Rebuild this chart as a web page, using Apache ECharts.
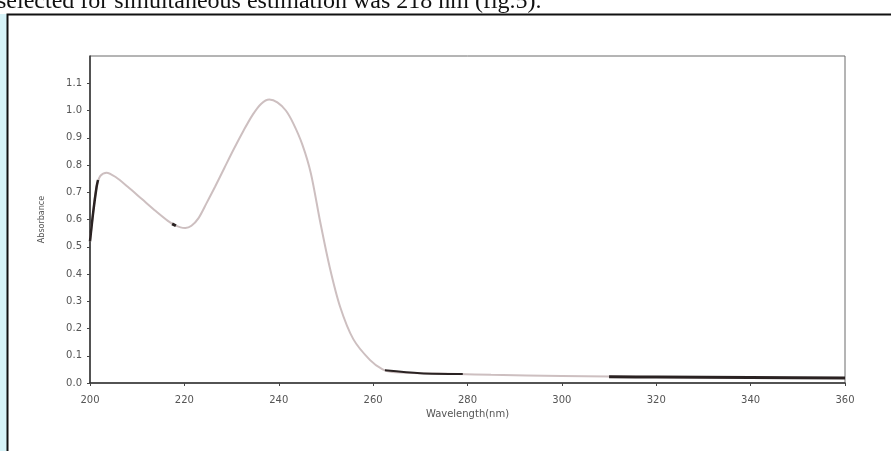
<!DOCTYPE html>
<html>
<head>
<meta charset="utf-8">
<script src="https://cdn.jsdelivr.net/npm/echarts@6/dist/echarts.min.js"></script>
<style>
  html, body { margin: 0; padding: 0; background: #fff; }
  #chart { width: 891px; height: 451px; }
</style>
</head>
<body>
<div id="chart"></div>
<script>
// spectrum
const wavelength = [200, 200.7, 201.4, 202.2, 203.5, 205.5, 208, 211, 214, 216.5, 218, 219.2, 220.2, 221.5, 223, 224.7,
  226.5, 228.5, 230.4, 232.5, 234.5, 236.3, 238, 239.7, 241.5, 243.1, 245, 246.8, 248.8, 250.8, 253, 255.8,
  259.3, 262, 264, 270, 278, 285, 300, 320, 340, 360];
const absorbance = [0.52, 0.63, 0.72, 0.76, 0.772, 0.755, 0.72, 0.675, 0.63, 0.595, 0.579, 0.571, 0.569, 0.577, 0.605, 0.66,
  0.72, 0.79, 0.856, 0.925, 0.985, 1.025, 1.04, 1.03, 1.0, 0.952, 0.875, 0.77, 0.59, 0.425, 0.28, 0.161,
  0.085, 0.05, 0.04, 0.036, 0.033, 0.03, 0.026, 0.022, 0.02, 0.018];

// darker overprinted bits of the trace
const darkStartX = [200, 200.7, 201.4, 201.7];
const darkStartY = [0.52, 0.63, 0.72, 0.745];
const darkDotX = [217.4, 218.2];
const darkDotY = [0.584, 0.577];
const darkMidX = [262.5, 270, 279];
const darkMidY = [0.047, 0.036, 0.033];
const darkEndX = [310, 320, 340, 360];
const darkEndY = [0.023, 0.022, 0.02, 0.018];

const xTicks = { min: 200, max: 360, step: 20 };
const yTicks = { min: 0, max: 1.2, step: 0.1 };

function pairs(xs, ys) {
  return xs.map((x, i) => [x, ys[i]]);
}

const chart = echarts.init(document.getElementById('chart'));

function darkSeries(xs, ys, width) {
  return {
    type: 'line',
    data: pairs(xs, ys),
    symbol: 'none',
    smooth: 0.3,
    lineStyle: { color: '#2a2222', width: width },
    z: 3
  };
}

const option = {
  animation: false,
  backgroundColor: '#fff',
  grid: {
    left: 90, right: 46, top: 56, bottom: 68,
    show: true, borderColor: '#6a6a6a', borderWidth: 1
  },
  xAxis: {
    type: 'value',
    min: xTicks.min, max: xTicks.max, interval: xTicks.step,
    name: 'Wavelength(nm)',
    nameLocation: 'middle',
    nameGap: 26,
    nameTextStyle: { fontSize: 10, color: '#555', fontFamily: 'DejaVu Sans' },
    axisLine: { show: true, lineStyle: { color: '#333', width: 1.5 } },
    axisTick: { show: true, length: 3, lineStyle: { color: '#444' } },
    axisLabel: { fontSize: 10, color: '#555', margin: 12, fontFamily: 'DejaVu Sans' },
    splitLine: { show: false }
  },
  yAxis: {
    type: 'value',
    min: yTicks.min, max: yTicks.max, interval: yTicks.step,
    name: 'Absorbance',
    nameLocation: 'middle',
    nameGap: 44,
    nameTextStyle: { fontSize: 8, color: '#555', fontFamily: 'DejaVu Sans' },
    axisLine: { show: true, lineStyle: { color: '#333', width: 1.5 } },
    axisTick: { show: true, length: 3, lineStyle: { color: '#444' } },
    axisLabel: {
      fontSize: 10, color: '#555', margin: 8, fontFamily: 'DejaVu Sans',
      showMaxLabel: false,
      formatter: v => v.toFixed(1)
    },
    splitLine: { show: false }
  },
  graphic: [
    {
      type: 'rect',
      shape: { x: 0, y: 14, width: 7, height: 437 },
      style: { fill: '#d6f3f8' },
      silent: true
    },
    {
      type: 'polyline',
      shape: { points: [[7.5, 451], [7.5, 14.5], [891, 14.5]] },
      style: { stroke: '#111', lineWidth: 2, fill: null },
      silent: true
    },
    {
      type: 'text',
      style: {
        text: 'selected for simultaneous estimation was 218 nm (fig.5).',
        x: -3, y: 14,
        verticalAlign: 'bottom',
        font: '24px "Liberation Serif"',
        fill: '#111'
      },
      silent: true
    }
  ],
  series: [
    {
      type: 'line',
      data: pairs(wavelength, absorbance),
      symbol: 'none',
      smooth: 0.3,
      lineStyle: { color: '#cdbfc0', width: 2 },
      z: 2
    },
    darkSeries(darkStartX, darkStartY, 2.5),
    darkSeries(darkDotX, darkDotY, 3),
    darkSeries(darkMidX, darkMidY, 2),
    darkSeries(darkEndX, darkEndY, 3)
  ]
};

option && chart.setOption(option);
</script>
</body>
</html>
